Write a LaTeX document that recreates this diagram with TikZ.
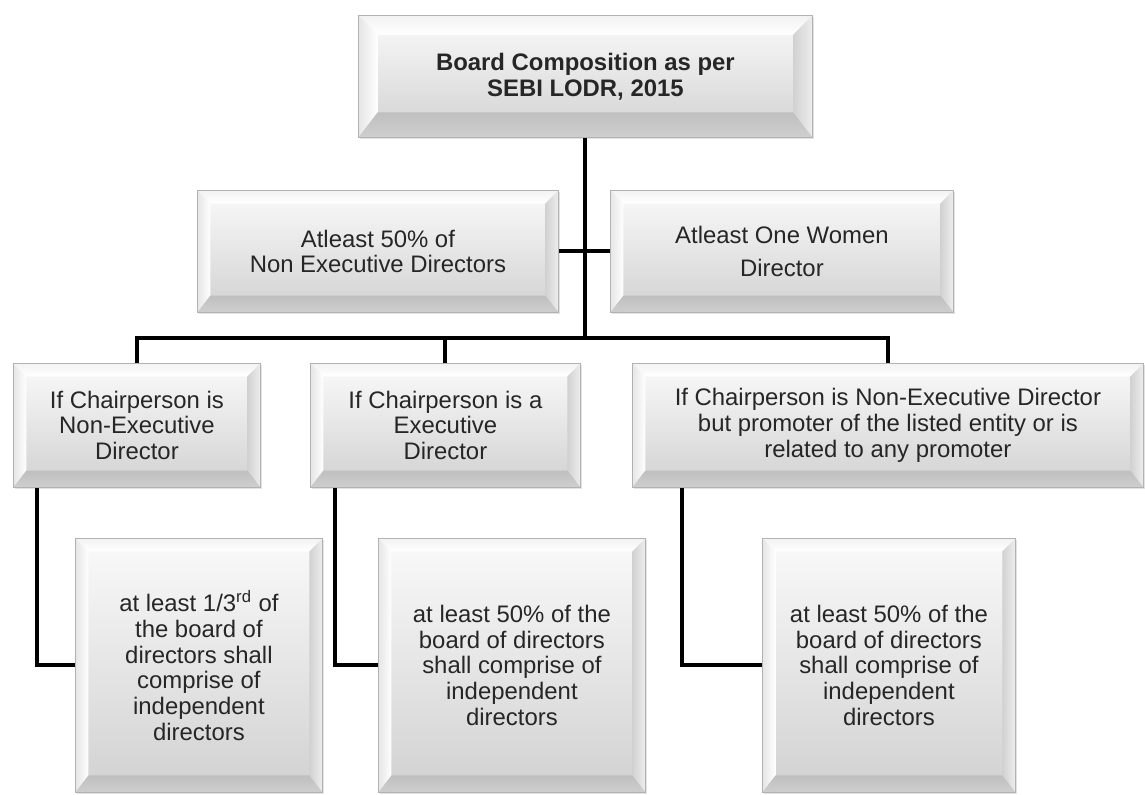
\documentclass[tikz,border=0pt]{standalone}
\usepackage{fontspec}
\setmainfont{Liberation Sans}
\usetikzlibrary{positioning,calc,shadows}

% bevelled faces of a box, #1 = bevel width
\newcommand{\bevelfaces}[1]{%
  \coordinate (bNW) at (path picture bounding box.north west);
  \coordinate (bNE) at (path picture bounding box.north east);
  \coordinate (bSW) at (path picture bounding box.south west);
  \coordinate (bSE) at (path picture bounding box.south east);
  \coordinate (iNW) at ([shift={(#1,-#1)}]bNW);
  \coordinate (iNE) at ([shift={(-#1,-#1)}]bNE);
  \coordinate (iSW) at ([shift={(#1,{1.3*#1})}]bSW);
  \coordinate (iSE) at ([shift={(-#1,{1.3*#1})}]bSE);
  \shade[top color=gray!10, bottom color=white] (bNW) -- (bNE) -- (iNE) -- (iNW) -- cycle;
  \shade[left color=gray!20, right color=white] (bNW) -- (iNW) -- (iSW) -- (bSW) -- cycle;
  \shade[left color=gray!36, right color=gray!14] (bNE) -- (bSE) -- (iSE) -- (iNE) -- cycle;
  \shade[top color=gray!50, bottom color=gray!38] (bSW) -- (iSW) -- (iSE) -- (bSE) -- cycle;
}

\tikzset{
  conn/.style={line width=2.3pt, black},
  bevelbox/.style={draw=gray!60, line width=0.5pt, align=center, text=black!85,
    font=\fontsize{13.6}{14.6}\selectfont, inner sep=0pt, anchor=north west,
    top color=white!98!black, bottom color=gray!36,
    drop shadow={opacity=0.22, shadow xshift=0.8pt, shadow yshift=-0.8pt},
    path picture={\bevelfaces{#1}}},
  bevelbox/.default=7.4pt,
}

\begin{document}
\begin{tikzpicture}[x=0.02cm, y=-0.02cm]
    \useasboundingbox (0,0) rectangle (1145,794);

    % top
    \node[bevelbox=11pt, minimum width=9.08cm, minimum height=2.44cm] (board) at (358,15)
        {\textbf{Board Composition as per}\\\textbf{SEBI LODR, 2015}};

    % second row
    \node[bevelbox, minimum width=7.22cm, minimum height=2.44cm] (ned) at (197,190)
        {Atleast 50\% of\\Non Executive Directors};
    \node[bevelbox, minimum width=6.86cm, minimum height=2.44cm] (women) at (610,190)
        {Atleast One Women\\[4pt]Director};

    % chairperson cases
    \node[bevelbox, minimum width=4.94cm, minimum height=2.48cm] (chairNE) at (13,363)
        {If Chairperson is\\Non-Executive\\Director};
    \node[bevelbox, minimum width=5.40cm, minimum height=2.48cm] (chairE) at (310,363)
        {If Chairperson is a\\Executive\\Director};
    \node[bevelbox, minimum width=10.22cm, minimum height=2.48cm] (chairP) at (632,363)
        {If Chairperson is Non-Executive Director\\but promoter of the listed entity or is\\related to any promoter};

    % independent directors
    \node[bevelbox, minimum width=4.94cm, minimum height=5.08cm] (indA) at (75,538)
        {at least 1/3\textsuperscript{rd} of\\the board of\\directors shall\\comprise of\\independent\\directors};
    \node[bevelbox, minimum width=5.34cm, minimum height=5.08cm] (indB) at (378,538)
        {at least 50\% of the\\board of directors\\shall comprise of\\independent\\directors};
    \node[bevelbox, minimum width=5.06cm, minimum height=5.08cm] (indC) at (762,538)
        {at least 50\% of the\\board of directors\\shall comprise of\\independent\\directors};

    % connectors
    \coordinate (bar) at (board.south |- 0,338);
    \draw[conn] (board.south) -- (bar);
    \draw[conn] (ned.east) -- (women.west);
    \draw[conn] (chairNE.north) |- (bar) -| (chairP.north);
    \draw[conn] (chairE.north) -- (chairE.north |- bar);
    \draw[conn] ([xshift=0.48cm]chairNE.south west) |- (indA.west);
    \draw[conn] ([xshift=0.5cm]chairE.south west) |- (indB.west);
    \draw[conn] ([xshift=1cm]chairP.south west) |- (indC.west);
\end{tikzpicture}
\end{document}
